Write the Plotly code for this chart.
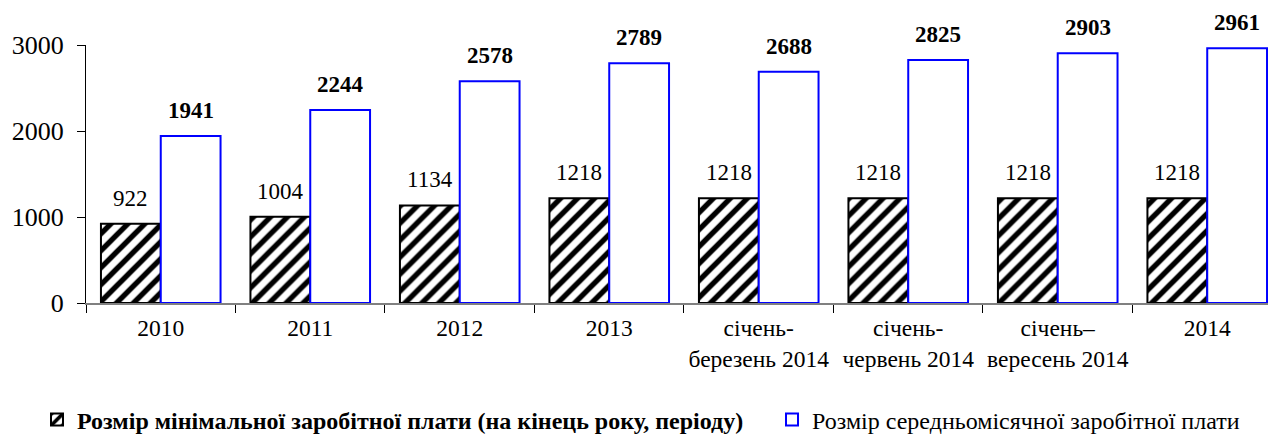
import plotly.graph_objects as go

categories = ["2010", "2011", "2012", "2013", "січень-<br>березень 2014",
              "січень-<br>червень 2014", "січень–<br>вересень 2014", "2014"]
min_wage = [922, 1004, 1134, 1218, 1218, 1218, 1218, 1218]
avg_wage = [1941, 2244, 2578, 2789, 2688, 2825, 2903, 2961]
name_min = "Розмір мінімальної заробітної плати (на кінець року, періоду)"
name_avg = "Розмір середньомісячної заробітної плати"

FONT = "Liberation Serif, Times New Roman, serif"
W, H = 1276, 434

fig = go.Figure()
fig.add_trace(go.Bar(
    x=categories, y=min_wage,
    name="<b>" + name_min + "</b>", legend="legend",
    marker=dict(color="white", line=dict(color="black", width=2),
                pattern=dict(shape="/", fgcolor="black", bgcolor="white",
                             fgopacity=1, size=12, solidity=0.45)),
))
fig.add_trace(go.Bar(
    x=categories, y=avg_wage,
    name=name_avg, legend="legend2",
    marker=dict(color="white", line=dict(color="#0000FF", width=2)),
))

for i, v in enumerate(min_wage):
    fig.add_annotation(x=i - 0.2, y=v, text=str(v), showarrow=False,
                       yanchor="bottom", yshift=11,
                       font=dict(family=FONT, size=23, color="black"))
for i, v in enumerate(avg_wage):
    fig.add_annotation(x=i + 0.2, y=v, text="<b>%d</b>" % v, showarrow=False,
                       yanchor="bottom", yshift=11,
                       font=dict(family=FONT, size=23, color="black"))

leg_common = dict(orientation="h", xref="container", yref="container",
                  xanchor="left", yanchor="middle", y=(H - 412) / H,
                  bgcolor="rgba(0,0,0,0)", itemwidth=30)
fig.update_layout(
    width=W, height=H,
    margin=dict(l=78, r=8, t=37, b=H - 295, autoexpand=False),
    paper_bgcolor="white", plot_bgcolor="white",
    barmode="group", bargap=0.2, bargroupgap=0,
    font=dict(family=FONT, size=20, color="black"),
    showlegend=True,
    legend=dict(x=29 / W, font=dict(family=FONT, size=24, color="black"), **leg_common),
    legend2=dict(x=764 / W, font=dict(family=FONT, size=24, color="black"), **leg_common),
)
fig.update_xaxes(
    type="category", range=[-0.5, 7.46], showline=True, linecolor="#808080", linewidth=2,
    ticks="outside", tickson="boundaries", ticklen=8, tickcolor="black", tickwidth=1,
    showgrid=False, zeroline=False, tickangle=0, ticklabelstandoff=3,
    tickfont=dict(family=FONT, size=23.5),
)
fig.update_yaxes(
    range=[0, 3000], tickvals=[0, 1000, 2000, 3000], showline=True,
    linecolor="black", linewidth=1, ticks="outside", ticklen=8, tickcolor="black",
    tickfont=dict(family=FONT, size=26), showgrid=False, zeroline=False,
    ticklabelstandoff=8,
)

fig.write_html("out.html")
